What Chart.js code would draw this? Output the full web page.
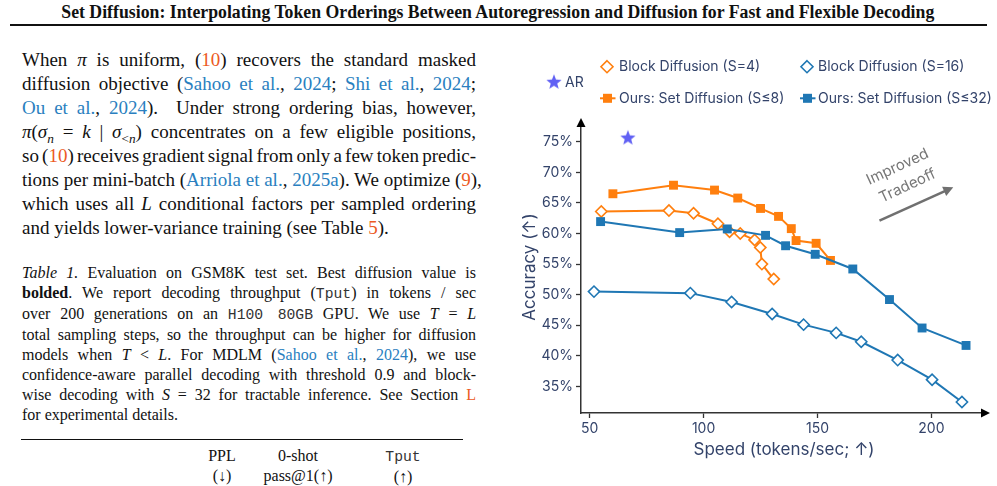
<!DOCTYPE html>
<html>
<head>
<meta charset="utf-8">
<script src="https://cdn.jsdelivr.net/npm/chart.js@4.4.1/dist/chart.umd.min.js"></script>
<style>
  html,body{margin:0;padding:0;background:#fff;}
  body{width:997px;height:486px;position:relative;overflow:hidden;font-family:"Liberation Serif","Times New Roman",serif;color:#111;}
  .title{position:absolute;left:498px;top:2px;font-weight:bold;font-size:18px;line-height:20px;white-space:nowrap;transform-origin:50% 50%;}
  .rule{position:absolute;left:10px;width:977px;top:24px;height:2px;background:#111;}
  .col{position:absolute;left:22px;width:454px;}
  .ln{white-space:nowrap;text-align:justify;text-align-last:justify;}
  .ln.last{text-align-last:left;}
  .ln.tight{word-spacing:-2px;}
  .body{top:48px;font-size:19px;line-height:24px;}
  .cap{top:263px;font-size:16px;line-height:20px;}
  .c{color:#2a7fc0;}
  .r{color:#ec5a24;}
  tt{font-family:"Liberation Mono","DejaVu Sans Mono",monospace;font-size:0.92em;color:#333;}
  sub{font-size:0.7em;line-height:0;}
  .trule{position:absolute;left:21px;width:442px;top:439px;height:1.3px;background:#111;}
  .th{position:absolute;font-size:16px;line-height:20px;transform:translateX(-50%);text-align:center;white-space:nowrap;}
  #wrap{position:absolute;left:500px;top:40px;width:497px;height:446px;}
</style>
</head>
<body>
<div class="title" id="ttl">Set Diffusion: Interpolating Token Orderings Between Autoregression and Diffusion for Fast and Flexible Decoding</div>
<div class="rule"></div>

<div class="col body">
  <div class="ln">When <i>π</i> is uniform, (<span class="r">10</span>) recovers the standard masked</div>
  <div class="ln">diffusion objective (<span class="c">Sahoo et al.</span>, <span class="c">2024</span>; <span class="c">Shi et al.</span>, <span class="c">2024</span>;</div>
  <div class="ln"><span class="c">Ou et al.</span>, <span class="c">2024</span>). &nbsp;Under strong ordering bias, however,</div>
  <div class="ln"><i>π</i>(<i>σ<sub>n</sub></i> = <i>k</i> | <i>σ</i><sub>&lt;<i>n</i></sub>) concentrates on a few eligible positions,</div>
  <div class="ln tight">so (<span class="r">10</span>) receives gradient signal from only a few token predic-</div>
  <div class="ln">tions per mini-batch (<span class="c">Arriola et al.</span>, <span class="c">2025a</span>). We optimize (<span class="r">9</span>),</div>
  <div class="ln">which uses all <i>L</i> conditional factors per sampled ordering</div>
  <div class="ln last">and yields lower-variance training (see Table <span class="r">5</span>).</div>
</div>

<div class="col cap">
  <div class="ln"><i>Table 1.</i> Evaluation on GSM8K test set. Best diffusion value is</div>
  <div class="ln"><b>bolded</b>. We report decoding throughput (<tt>Tput</tt>) in tokens / sec</div>
  <div class="ln">over 200 generations on an <tt>H100 80GB</tt> GPU. We use <i>T</i> = <i>L</i></div>
  <div class="ln">total sampling steps, so the throughput can be higher for diffusion</div>
  <div class="ln">models when <i>T</i> &lt; <i>L</i>. For MDLM (<span class="c">Sahoo et al.</span>, <span class="c">2024</span>), we use</div>
  <div class="ln">confidence-aware parallel decoding with threshold 0.9 and block-</div>
  <div class="ln">wise decoding with <i>S</i> = 32 for tractable inference. See Section <span class="r">L</span></div>
  <div class="ln last">for experimental details.</div>
</div>

<div class="trule"></div>
<div class="th" style="left:222px;top:446px;">PPL<br>(↓)</div>
<div class="th" style="left:298px;top:446px;">0-shot<br>pass@1(↑)</div>
<div class="th" style="left:403px;top:446px;"><tt>Tput</tt><br>(↑)</div>

<div id="wrap"><canvas id="c"></canvas></div>

<script>
// ---- data ----
const arSpeed = [66.8];
const arAcc = [75.7];

const blockS4Speed = [55.1, 84.8, 95.6, 106.3, 111.4, 116.1, 122.4, 124.9, 125.6, 130.8];
const blockS4Acc   = [63.6, 63.75, 63.3, 61.6, 60.3, 60.0, 58.95, 57.7, 55.0, 52.55];

const blockS16Speed = [51.9, 94.2, 112.3, 130.1, 143.9, 158.2, 169.2, 185.2, 200.3, 213.4];
const blockS16Acc   = [50.5, 50.25, 48.8, 46.85, 45.1, 43.75, 42.3, 39.3, 36.1, 32.45];

const setS8Speed = [60.2, 86.8, 104.8, 115.0, 125.0, 132.9, 138.5, 140.6, 149.4, 155.7];
const setS8Acc   = [66.5, 67.9, 67.1, 65.8, 64.1, 62.8, 60.8, 58.85, 58.4, 55.6];

const setS32Speed = [54.8, 89.5, 110.4, 127.2, 136.0, 149.0, 165.5, 181.6, 195.9, 215.2];
const setS32Acc   = [61.95, 60.15, 60.75, 59.7, 58.0, 56.6, 54.2, 49.2, 44.55, 41.7];

const xTickValues = [50, 100, 150, 200];
const yTickValues = [35, 40, 45, 50, 55, 60, 65, 70, 75];

const legendLabels = ['AR', 'Block Diffusion (S=4)', 'Block Diffusion (S=16)', 'Ours: Set Diffusion (S≤8)', 'Ours: Set Diffusion (S≤32)'];
const xTitle = 'Speed (tokens/sec; ↑)';
const yTitle = 'Accuracy (↑)';
const annotLines = ['Improved', 'Tradeoff'];

// title fit: spans x 62..935 in the reference
(function(){
  const t = document.getElementById('ttl');
  const w = t.getBoundingClientRect().width;
  const sx = 873 / w;
  t.style.left = (498 - w/2) + 'px';
  t.style.transform = 'scaleX(' + sx + ')';
})();

// ---- styles ----
const ORANGE = '#ff7f0e';
const BLUE = '#1f77b4';
const STAR = '#6161f4';
const TXT = '#33436a';
const FONT = 'Inter, "Noto Sans", sans-serif';

function pts(xs, ys){ return xs.map((x,i)=>({x:x, y:ys[i]})); }

function starPath(ctx, cx, cy, R, r){
  ctx.beginPath();
  for(let i=0;i<10;i++){
    const a = -Math.PI/2 + i*Math.PI/5;
    const rr = (i%2===0)?R:r;
    const px = cx + rr*Math.cos(a), py = cy + rr*Math.sin(a);
    if(i===0) ctx.moveTo(px,py); else ctx.lineTo(px,py);
  }
  ctx.closePath();
}
const starImg = document.createElement('canvas');
starImg.width = 18; starImg.height = 18;
(function(){
  const g = starImg.getContext('2d');
  g.fillStyle = STAR;
  starPath(g, 9, 9.6, 8, 3.4);
  g.fill();
})();

const chartDecor = {
  id:'chartDecor',
  afterDraw(chart){
    const ctx = chart.ctx, ca = chart.chartArea;
    const xs = chart.scales.x, ys = chart.scales.y;
    ctx.save();
    // axis arrows
    ctx.fillStyle = '#000';
    ctx.beginPath();
    ctx.moveTo(ca.left, ca.top - 3);
    ctx.lineTo(ca.left - 4.5, ca.top + 6);
    ctx.lineTo(ca.left + 4.5, ca.top + 6);
    ctx.closePath(); ctx.fill();
    ctx.beginPath();
    ctx.moveTo(ca.right + 3, ca.bottom);
    ctx.lineTo(ca.right - 6, ca.bottom - 4.5);
    ctx.lineTo(ca.right - 6, ca.bottom + 4.5);
    ctx.closePath(); ctx.fill();

    // annotation arrow
    const ax0 = xs.getPixelForValue(177.2), ay0 = ys.getPixelForValue(62.1);
    const ax1 = xs.getPixelForValue(209.6), ay1 = ys.getPixelForValue(67.56);
    const ang = Math.atan2(ay1-ay0, ax1-ax0);
    ctx.strokeStyle = '#707070'; ctx.fillStyle = '#707070'; ctx.lineWidth = 2.6;
    ctx.beginPath();
    ctx.moveTo(ax0, ay0);
    ctx.lineTo(ax1 - 8*Math.cos(ang), ay1 - 8*Math.sin(ang));
    ctx.stroke();
    ctx.beginPath();
    ctx.moveTo(ax1, ay1);
    ctx.lineTo(ax1 - 10*Math.cos(ang) + 5*Math.sin(ang), ay1 - 10*Math.sin(ang) - 5*Math.cos(ang));
    ctx.lineTo(ax1 - 10*Math.cos(ang) - 5*Math.sin(ang), ay1 - 10*Math.sin(ang) + 5*Math.cos(ang));
    ctx.closePath(); ctx.fill();
    // annotation text
    ctx.font = '15px ' + FONT;
    ctx.fillStyle = '#777777';
    ctx.textAlign = 'center'; ctx.textBaseline = 'middle';
    const tp = [[185.1, 70.9], [189.5, 67.8]];
    annotLines.forEach((t,i)=>{
      ctx.save();
      ctx.translate(xs.getPixelForValue(tp[i][0]), ys.getPixelForValue(tp[i][1]));
      ctx.rotate(-25*Math.PI/180);
      ctx.fillText(t, 0, 0);
      ctx.restore();
    });

    // legend
    ctx.font = '14px ' + FONT;
    ctx.fillStyle = TXT;
    ctx.textAlign = 'left'; ctx.textBaseline = 'middle';
    // AR
    ctx.drawImage(starImg, 54-9, 42.3-9.6);
    ctx.fillStyle = TXT;
    ctx.fillText(legendLabels[0], 65, 42.5);
    function diamond(cx, cy, col){
      ctx.save();
      ctx.beginPath();
      ctx.moveTo(cx, cy-6); ctx.lineTo(cx+6, cy); ctx.lineTo(cx, cy+6); ctx.lineTo(cx-6, cy);
      ctx.closePath();
      ctx.fillStyle = '#fff'; ctx.fill();
      ctx.strokeStyle = col; ctx.lineWidth = 1.6; ctx.stroke();
      ctx.restore();
    }
    function square(cx, cy, col){
      ctx.save();
      ctx.strokeStyle = col; ctx.lineWidth = 2;
      ctx.beginPath(); ctx.moveTo(cx-7.5, cy); ctx.lineTo(cx+8, cy); ctx.stroke();
      ctx.fillStyle = col; ctx.fillRect(cx-4.5, cy-4.5, 9, 9);
      ctx.restore();
    }
    diamond(107, 26.7, ORANGE);
    ctx.fillText(legendLabels[1], 119, 26.9);
    diamond(307, 26.7, BLUE);
    ctx.fillText(legendLabels[2], 318, 26.9);
    square(107.5, 58.3, ORANGE);
    ctx.fillText(legendLabels[3], 119, 58.5);
    square(307.5, 58.3, BLUE);
    ctx.fillText(legendLabels[4], 318, 58.5);
    ctx.restore();
  }
};

const lineDs = (label, data, color, filled) => ({
  label, data,
  showLine: true,
  borderColor: color,
  backgroundColor: filled ? color : '#ffffff',
  borderWidth: 2,
  pointStyle: filled ? 'rect' : 'rectRot',
  pointRadius: filled ? 6.3 : 5.6,
  pointBorderWidth: filled ? 0 : 1.6,
  pointBorderColor: color,
  pointBackgroundColor: filled ? color : '#ffffff',
  tension: 0
});

new Chart(document.getElementById('c'), {
  type: 'scatter',
  data: {
    datasets: [
      lineDs(legendLabels[4], pts(setS32Speed, setS32Acc), BLUE, true),
      lineDs(legendLabels[2], pts(blockS16Speed, blockS16Acc), BLUE, false),
      lineDs(legendLabels[1], pts(blockS4Speed, blockS4Acc), ORANGE, false),
      lineDs(legendLabels[3], pts(setS8Speed, setS8Acc), ORANGE, true),
      { label: legendLabels[0], data: pts(arSpeed, arAcc), pointStyle: starImg, pointRadius: 9, showLine:false }
    ]
  },
  options: {
    responsive: true,
    maintainAspectRatio: false,
    animation: false,
    layout: { padding: { top: 81, right: 9, left: 0, bottom: 0 } },
    plugins: { legend: { display: false }, tooltip: { enabled: false } },
    scales: {
      x: {
        type: 'linear', min: 46.2, max: 224.4,
        afterFit(s){ s.height = 73; },
        afterBuildTicks(s){ s.ticks = xTickValues.map(v=>({value:v})); },
        grid: { display: true, drawOnChartArea: false, drawTicks: true, tickLength: 5, tickColor: '#333', tickWidth: 1.3 },
        border: { display: true, color: '#333', width: 1.5 },
        ticks: { color: TXT, font: { family: FONT, size: 14 }, padding: 2, maxRotation: 0 },
        title: { display: true, text: xTitle, color: TXT, font: { family: FONT, size: 17 }, padding: { top: 0, bottom: 26 } }
      },
      y: {
        type: 'linear', min: 30.65, max: 78.4,
        afterFit(s){ s.width = 81; },
        afterBuildTicks(s){ s.ticks = yTickValues.map(v=>({value:v})); },
        grid: { display: true, drawOnChartArea: false, drawTicks: true, tickLength: 5, tickColor: '#333', tickWidth: 1.3 },
        border: { display: true, color: '#333', width: 1.5 },
        ticks: { color: TXT, font: { family: FONT, size: 14 }, padding: 3, callback: v => v + '%' },
        title: { display: true, text: yTitle, color: TXT, font: { family: FONT, size: 17 }, padding: { top: 20, bottom: 0 } }
      }
    }
  },
  plugins: [chartDecor]
});
</script>
</body>
</html>
